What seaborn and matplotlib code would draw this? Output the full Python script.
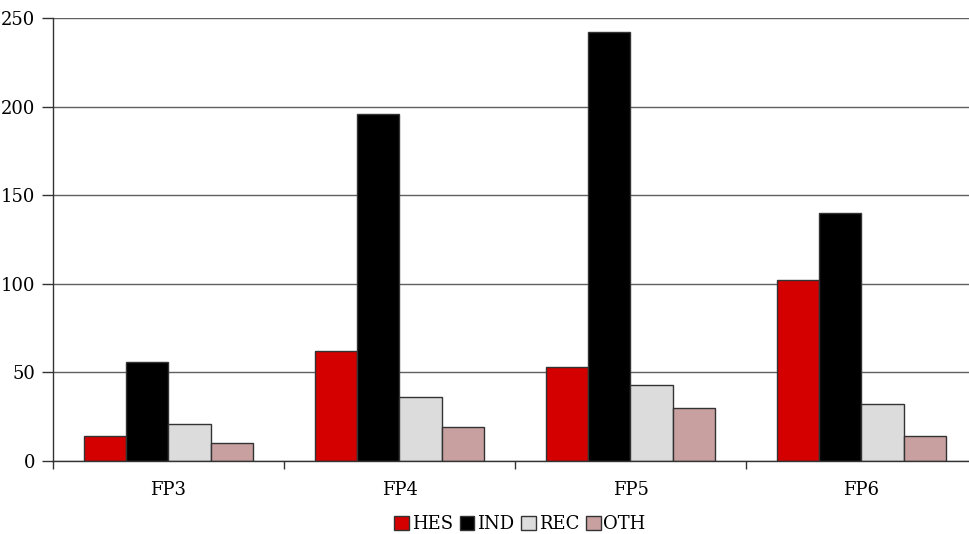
import matplotlib
matplotlib.use('Agg')
import matplotlib.pyplot as plt
import seaborn as sns
import pandas as pd
from matplotlib.patches import Patch
from matplotlib.ticker import FixedLocator

# data
programmes = ['FP3', 'FP4', 'FP5', 'FP6']
series = ['HES', 'IND', 'REC', 'OTH']
hes = [14, 62, 53, 102]
ind = [56, 196, 242, 140]
rec = [21, 36, 43, 32]
oth = [10, 19, 30, 14]
colors = ['#d40000', '#000000', '#dcdcdc', '#c8a0a0']

rows = []
for name, vals in zip(series, [hes, ind, rec, oth]):
    for p, v in zip(programmes, vals):
        rows.append({'programme': p, 'series': name, 'value': v})
df = pd.DataFrame(rows)

sns.set_style('white')
plt.rcParams['font.family'] = ['DejaVu Serif']
plt.rcParams['text.color'] = 'black'
plt.rcParams['xtick.color'] = 'black'
plt.rcParams['ytick.color'] = 'black'

fig = plt.figure(figsize=(9.7, 5.34), dpi=100)
ax = fig.add_axes([53 / 970, (534 - 461) / 534, 924 / 970, 443 / 534])

sns.barplot(data=df, x='programme', y='value', hue='series', hue_order=series,
            palette=colors, width=0.73, edgecolor='#333333', linewidth=1,
            saturation=1, legend=False, ax=ax)

ax.set_ylim(0, 250)
ax.set_xlim(-0.5, 3.5)
ax.set_yticks(range(0, 251, 50))
ax.yaxis.grid(True, color='#606060', linewidth=1)
ax.set_axisbelow(True)
for s in ['top', 'right']:
    ax.spines[s].set_visible(False)
for s in ['left', 'bottom']:
    ax.spines[s].set_color('#333333')
    ax.spines[s].set_linewidth(1)

ax.tick_params(axis='y', which='major', left=True, length=8, width=1,
               color='#333333', labelsize=13, pad=5)
ax.tick_params(axis='x', which='major', bottom=False, labelsize=13, pad=11)
ax.xaxis.set_minor_locator(FixedLocator([-0.5, 0.5, 1.5, 2.5]))
ax.tick_params(axis='x', which='minor', bottom=True, length=6, width=1, color='#333333')
ax.set_xlabel('')
ax.set_ylabel('')

handles = [Patch(facecolor=c, edgecolor='#333333', label=n) for n, c in zip(series, colors)]
fig.legend(handles=handles, loc='center', bbox_to_anchor=(520 / 970, 1 - 524 / 534),
           ncol=4, frameon=False, fontsize=13, handlelength=0.8, handleheight=0.8,
           handletextpad=0.15, columnspacing=0.4)

fig.savefig('out.png', dpi=100)
